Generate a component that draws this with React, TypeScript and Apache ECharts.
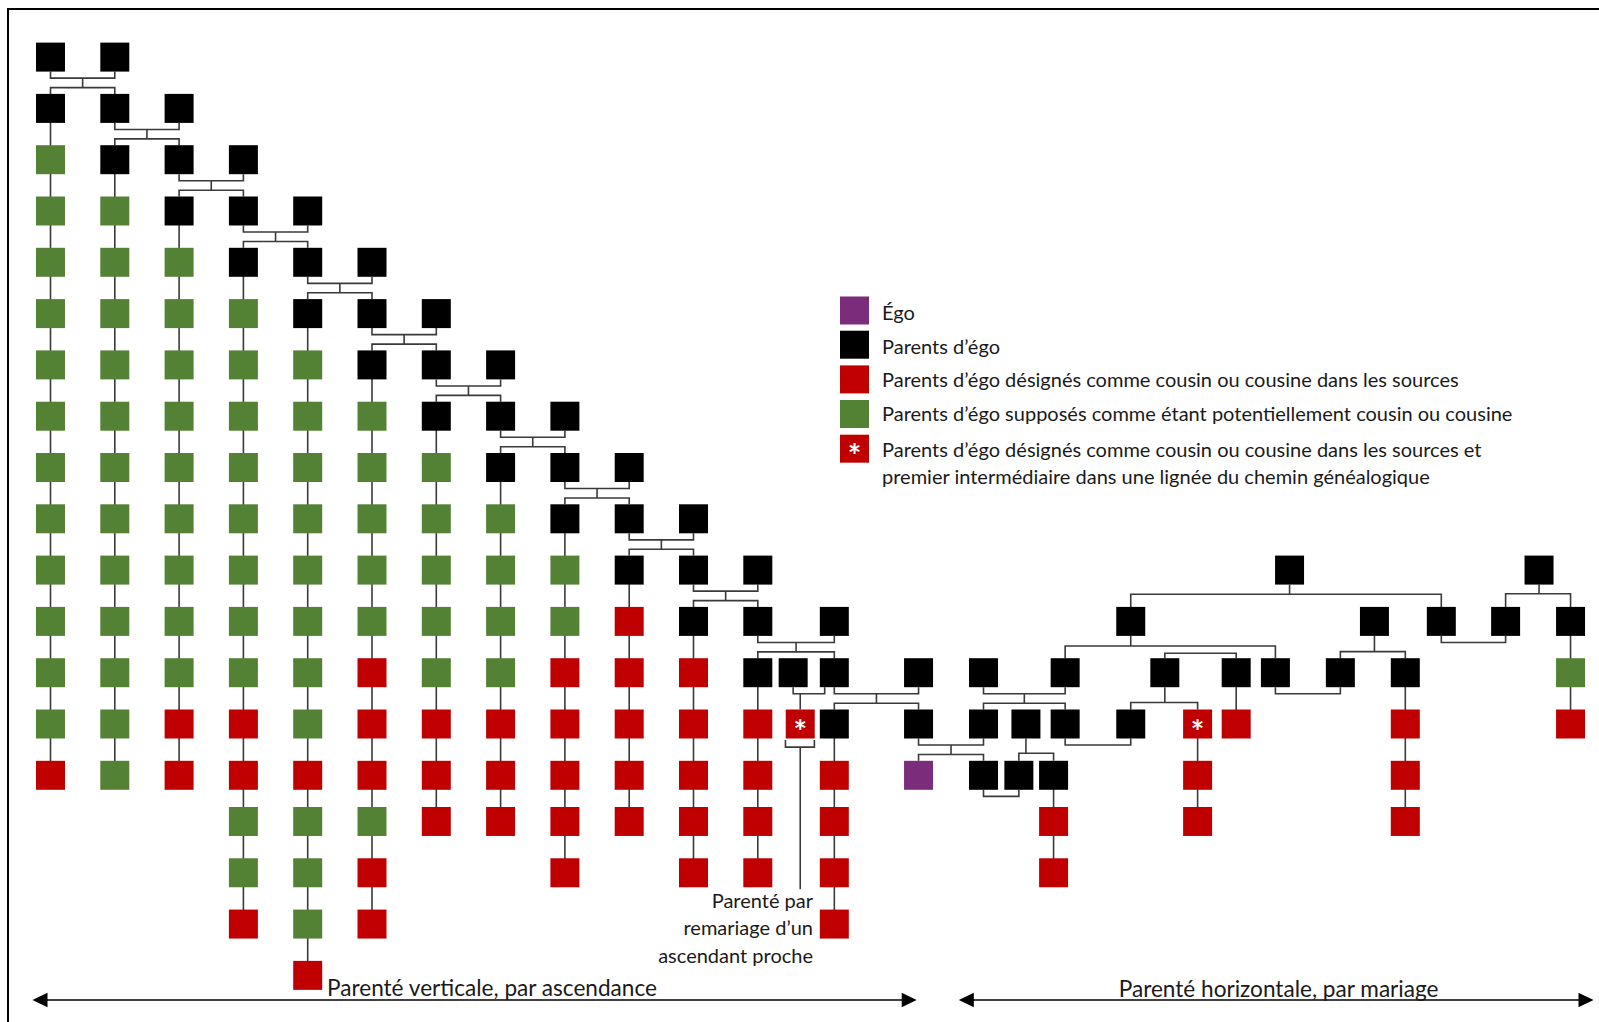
import React, { useEffect, useRef } from "react";
import * as echarts from "echarts";

// ---------- DATA (columns = lineage slots, gen = generation row) ----------
// Parents d'égo (black squares): [column, generation]
const blackNodes: [number, number][] = [
  [0, 0], [1, 0],
  [0, 1], [1, 1], [2, 1],
  [1, 2], [2, 2], [3, 2],
  [2, 3], [3, 3], [4, 3],
  [3, 4], [4, 4], [5, 4],
  [4, 5], [5, 5], [6, 5],
  [5, 6], [6, 6], [7, 6],
  [6, 7], [7, 7], [8, 7],
  [7, 8], [8, 8], [9, 8],
  [8, 9], [9, 9], [10, 9],
  [9, 10], [10, 10], [11, 10],
  [10, 11], [11, 11], [12.19, 11],
  [11, 12], [11.55, 12], [12.19, 12], [13.5, 12],
  [12.19, 13], [13.5, 13],
  [19.27, 10], [23.15, 10],
  [16.8, 11], [20.59, 11], [21.63, 11], [22.63, 11], [23.64, 11],
  [14.51, 12], [15.78, 12], [17.33, 12], [18.44, 12], [19.05, 12], [20.06, 12], [21.07, 12],
  [14.51, 13], [15.17, 13], [15.78, 13], [16.8, 13],
  [14.51, 14], [15.06, 14], [15.6, 14],
];

// Vertical lineages on the left: column, first coloured generation, statuses (G = supposé, R = désigné)
const lineageColumns = [0, 1, 2, 3, 4, 5, 6, 7, 8, 9, 10, 11, 12.19];
const lineageFirstGen = [2, 3, 4, 5, 6, 7, 8, 9, 10, 11, 12, 13, 14];
const lineageStatus = [
  "GGGGGGGGGGGGR",
  "GGGGGGGGGGGG",
  "GGGGGGGGGRR",
  "GGGGGGGGRRGGR",
  "GGGGGGGGRGGGR",
  "GGGGGRRRGRR",
  "GGGGGRRR",
  "GGGGRRR",
  "GGRRRRR",
  "RRRRR",
  "RRRRR",
  "RRRR",
  "RRRR",
];

const extraGreenNodes: [number, number][] = [[23.64, 12]];
const extraRedNodes: [number, number][] = [
  [23.64, 13], [18.44, 13], [21.07, 13], [21.07, 14], [21.07, 15],
  [17.84, 14], [17.84, 15], [15.6, 15], [15.6, 16],
];
const starNodes: [number, number][] = [[11.66, 13], [17.84, 13]];
const egoNodes: [number, number][] = [[13.5, 14]];

// straight descent lines: column, from gen, to gen
const descentLines: [number, number, number][] = [
  [23.64, 11, 13], [21.07, 12, 15], [18.44, 12, 13], [17.84, 13, 15], [15.6, 14, 16],
];

const familyParents: number[][] = [
  [0, 1], [1, 2], [2, 3], [3, 4], [4, 5], [5, 6], [6, 7], [7, 8], [8, 9], [9, 10], [10, 11],
  [11, 12.19], [11.55, 12.04], [12.19, 13.5], [13.5, 14.51], [14.51, 15.78],
  [21.63, 22.63], [19.05, 20.06], [15.78, 16.8], [14.51, 15.06],
  [19.27], [23.15], [16.8], [20.59], [17.33], [15.17],
];
const familyGen = [0, 1, 2, 3, 4, 5, 6, 7, 8, 9, 10, 11, 12, 12, 13, 12, 11, 12, 13, 14, 10, 10, 11, 11, 12, 13];
const familyChildren: number[][] = [
  [0, 1], [1, 2], [2, 3], [3, 4], [4, 5], [5, 6], [6, 7], [7, 8], [8, 9], [9, 10], [10, 11],
  [11, 12.19], [11.66], [12.19, 13.5], [13.5, 14.51], [14.51, 15.78],
  [], [], [], [],
  [16.8, 21.63], [22.63, 23.64], [15.78, 19.05], [20.06, 21.07], [16.8, 17.84], [15.06, 15.6],
];
// sibling bracket without drawn parent
const siblingGroups = [{ children: [17.33, 18.44], gen: 12 }];

const legendLabels = [
  "Égo",
  "Parents d’égo",
  "Parents d’égo désignés comme cousin ou cousine dans les sources",
  "Parents d’égo supposés comme étant potentiellement cousin ou cousine",
  "Parents d’égo désignés comme cousin ou cousine dans les sources et\npremier intermédiaire dans une lignée du chemin généalogique",
];
const annotationText = "Parenté par\nremariage d’un\nascendant proche";
const verticalLabel = "Parenté verticale, par ascendance";
const horizontalLabel = "Parenté horizontale, par mariage";

// ---------- LAYOUT ----------
const W = 1599, H = 1022;
const COL0 = 50.5, COL_STEP = 64.3, ROW0 = 57.1, ROW_STEP = 51.3;
const SQ = 29;
const HALF = SQ / 2 / ROW_STEP;
const BRACKET = 0.41, BAR = 0.595;
const singleBar: Record<number, number> = { 20: 0.47, 21: 0.46, 22: 0.48, 23: 0.59, 24: 0.58, 25: 0.57 };
const genY = (g: number) => (g <= 14 ? g : g - 0.1);

const GREEN = "#548235";
const RED = "#C00000";
const PURPLE = "#7B2C7A";
const BLACK = "#000000";
const LINE = "#3a3a3a";
const TEXT = "#1a1a1a";
const FONT = "Lato";

function buildSegments(): number[][][] {
  const segs: number[][][] = [];
  familyParents.forEach((parents, i) => {
    const gen = familyGen[i];
    const children = familyChildren[i];
    const top = genY(gen) + HALF;
    const childTop = genY(gen + 1) - HALF;
    const bar = genY(gen) + (singleBar[i] ?? BAR);
    let stemX: number, stemY: number;
    if (parents.length === 2) {
      const [a, b] = parents;
      const brk = genY(gen) + BRACKET;
      segs.push([[a, top], [a, brk], [b, brk], [b, top]]);
      stemX = (a + b) / 2;
      stemY = brk;
    } else {
      stemX = parents[0];
      stemY = top;
    }
    if (children.length === 1) {
      segs.push([[children[0], stemY], [children[0], childTop]]);
    } else if (children.length > 1) {
      const lo = Math.min(...children), hi = Math.max(...children);
      segs.push([[stemX, stemY], [stemX, bar]]);
      segs.push([[lo, childTop], [lo, bar], [hi, bar], [hi, childTop]]);
      children.forEach((c) => {
        if (c !== lo && c !== hi) segs.push([[c, bar], [c, childTop]]);
      });
    }
  });
  siblingGroups.forEach((s) => {
    const [a, b] = s.children;
    const t = genY(s.gen) - HALF;
    const y = genY(s.gen) - 0.38;
    segs.push([[a, t], [a, y], [b, y], [b, t]]);
  });
  lineageColumns.forEach((c, i) => {
    const from = lineageFirstGen[i] - 1;
    const to = lineageFirstGen[i] + lineageStatus[i].length - 1;
    segs.push([[c, genY(from)], [c, genY(to)]]);
  });
  descentLines.forEach(([c, a, b]) => segs.push([[c, genY(a)], [c, genY(b)]]));
  // annotation brace under the remarriage node
  segs.push([[11.43, 13.31], [11.43, 13.45], [11.88, 13.45], [11.88, 13.31]]);
  segs.push([[11.66, 13.45], [11.66, 16.22]]);
  return segs;
}

function lineageNodes(letter: string): number[][] {
  const out: number[][] = [];
  lineageColumns.forEach((c, i) => {
    lineageStatus[i].split("").forEach((s, k) => {
      if (s === letter) out.push([c, genY(lineageFirstGen[i] + k)]);
    });
  });
  return out;
}

const toXY = (arr: [number, number][]) => arr.map(([x, g]) => [x, genY(g)]);

export default function App() {
  const ref = useRef<HTMLDivElement>(null);
  useEffect(() => {
    if (!ref.current) return;
    const chart = echarts.init(ref.current, null, { renderer: "svg" });
    const legendColors = [PURPLE, BLACK, RED, GREEN, RED];
    const legendY = [310.5, 344.7, 379.4, 414, 448.7];
    const legendTextY = [312, 345.7, 379.4, 413, 435];
    const graphics: any[] = [
      {
        type: "rect",
        shape: { x: 8, y: 9, width: 1700, height: 1200 },
        style: { fill: "none", stroke: "#000", lineWidth: 2 },
        silent: true,
      },
    ];
    legendLabels.forEach((label, i) => {
      graphics.push({
        type: "rect",
        shape: { x: 840, y: legendY[i] - 14, width: 29, height: 28 },
        style: { fill: legendColors[i] },
      });
      graphics.push({
        type: "text",
        x: 882,
        y: legendTextY[i],
        style: {
          text: label,
          fill: TEXT,
          fontSize: 20,
          fontFamily: FONT,
          lineHeight: 27.5,
          align: "left",
          verticalAlign: i === 4 ? "top" : "middle",
        },
      });
    });
    graphics.push({
      type: "text",
      x: 854.5,
      y: legendY[4] + 7,
      style: { text: "*", fill: "#fff", fontSize: 32, fontWeight: "bold", fontFamily: FONT, align: "center", verticalAlign: "middle" },
    });
    // annotation
    graphics.push({
      type: "text",
      x: 813,
      y: 886,
      style: { text: annotationText, fill: TEXT, fontSize: 20, fontFamily: FONT, lineHeight: 27.5, align: "right", verticalAlign: "top" },
    });
    // arrows
    const arrow = (x1: number, x2: number) => {
      graphics.push({ type: "line", shape: { x1: x1 + 5, y1: 1000, x2: x2 - 5, y2: 1000 }, style: { stroke: "#000", lineWidth: 1.5 } });
      graphics.push({ type: "polygon", shape: { points: [[x1, 1000], [x1 + 15, 992.7], [x1 + 15, 1007.3]] }, style: { fill: "#000" } });
      graphics.push({ type: "polygon", shape: { points: [[x2, 1000], [x2 - 15, 992.7], [x2 - 15, 1007.3]] }, style: { fill: "#000" } });
    };
    arrow(32.5, 916.7);
    arrow(958.8, 1593.5);
    graphics.push({
      type: "text", x: 327, y: 987,
      style: { text: verticalLabel, fill: TEXT, fontSize: 22.6, fontFamily: FONT, align: "left", verticalAlign: "middle" },
    });
    graphics.push({
      type: "text", x: 1278.6, y: 988,
      style: { text: horizontalLabel, fill: TEXT, fontSize: 22.6, fontFamily: FONT, align: "center", verticalAlign: "middle" },
    });

    const sq = (data: number[][], color: string, extra: any = {}) => ({
      type: "scatter",
      symbol: "rect",
      symbolSize: SQ,
      data,
      itemStyle: { color, opacity: 1 },
      z: 3,
      silent: true,
      ...extra,
    });

    chart.setOption({
      animation: false,
      backgroundColor: "#fff",
      grid: { left: 0, top: 0, width: W, height: H, containLabel: false },
      xAxis: { type: "value", min: -COL0 / COL_STEP, max: (W - COL0) / COL_STEP, show: false },
      yAxis: { type: "value", min: -ROW0 / ROW_STEP, max: (H - ROW0) / ROW_STEP, inverse: true, show: false },
      series: [
        {
          type: "lines",
          coordinateSystem: "cartesian2d",
          polyline: true,
          silent: true,
          z: 1,
          lineStyle: { color: LINE, width: 1.6, opacity: 1 },
          data: buildSegments().map((coords) => ({ coords })),
        },
        sq(toXY(blackNodes), BLACK),
        sq([...lineageNodes("G"), ...toXY(extraGreenNodes)], GREEN),
        sq([...lineageNodes("R"), ...toXY(extraRedNodes)], RED),
        sq(toXY(egoNodes), PURPLE),
        sq(toXY(starNodes), RED, {
          label: { show: true, formatter: "*", color: "#fff", fontSize: 32, fontWeight: "bold", fontFamily: FONT, position: "inside", offset: [0, 7] },
        }),
      ],
      graphic: graphics,
    });
    return () => chart.dispose();
  }, []);
  return <div ref={ref} style={{ position: "fixed", left: 0, top: 0, width: W, height: H, background: "#fff" }} />;
}
